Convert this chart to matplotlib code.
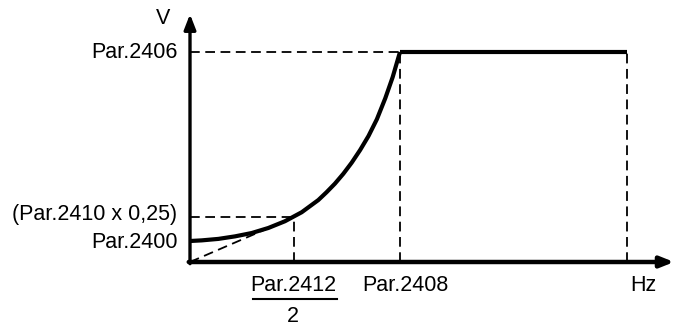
import matplotlib
matplotlib.use("Agg")
import matplotlib.pyplot as plt

plt.rcParams['font.family'] = ['Liberation Sans', 'DejaVu Sans']
plt.rcParams['lines.scale_dashes'] = False

# V/f curve (frequency normalised to Par.2408, voltage to Par.2406)
freq_curve = [0.0, 0.056, 0.135, 0.214, 0.294, 0.373, 0.452, 0.532, 0.611,
              0.650, 0.690, 0.730, 0.770, 0.810, 0.850, 0.890, 0.930, 0.965, 1.0]
volt_curve = [0.100, 0.103, 0.110, 0.122, 0.138, 0.162, 0.194, 0.237, 0.295,
              0.332, 0.373, 0.420, 0.473, 0.533, 0.600, 0.680, 0.780, 0.880, 1.0]

# constant-voltage range above the base frequency
freq_flat = [1.0, 2.08]
volt_flat = [1.0, 1.0]

# reference points
f_half = 0.495      # Par.2412 / 2
v_quarter = 0.214   # Par.2410 x 0,25
v_start = 0.100     # Par.2400
f_base = 1.0        # Par.2408
v_max = 1.0         # Par.2406
f_end = 2.08

fig = plt.figure(figsize=(6.76, 3.27), dpi=100)
ax = fig.add_axes([0, 0, 1, 1])
ax.set_xlim(-190 / 210, 486 / 210)
ax.set_ylim(-65 / 210, 262 / 210)
ax.axis('off')

dash = dict(color='black', lw=1.3, linestyle=(0, (7, 4)))
ax.plot([0, f_base], [v_max, v_max], **dash)
ax.plot([f_base, f_base], [0, v_max], **dash)
ax.plot([f_end, f_end], [0, v_max], **dash)
ax.plot([0, f_half], [v_quarter, v_quarter], **dash)
ax.plot([f_half, f_half], [0, v_quarter], **dash)
ax.plot([0, f_half], [0, v_quarter], **dash)

ax.plot(freq_curve, volt_curve, color='black', lw=3, solid_capstyle='butt',
        solid_joinstyle='round')
ax.plot(freq_flat, volt_flat, color='black', lw=3, solid_capstyle='butt')

# axes with arrow heads
y_arrow = dict(arrowstyle='-|>,head_length=0.9,head_width=0.35', color='black',
               lw=2.4, shrinkA=0, shrinkB=0)
x_arrow = dict(arrowstyle='-|>,head_length=0.8,head_width=0.32', color='black',
               lw=3.2, shrinkA=0, shrinkB=0)
ax.annotate('', xy=(0, 1.18), xytext=(0, -0.008), arrowprops=y_arrow)
ax.annotate('', xy=(2.305, 0), xytext=(-0.006, 0), arrowprops=x_arrow)

fs = 15.5
ax.text(-0.06, v_max, 'Par.2406', ha='right', va='center', fontsize=fs)
ax.text(-0.06, v_quarter + 0.01, '(Par.2410 x 0,25)', ha='right', va='center', fontsize=fs)
ax.text(-0.06, v_start - 0.005, 'Par.2400', ha='right', va='center', fontsize=fs)
ax.text(-0.13, 1.16, 'V', ha='center', va='center', fontsize=fs)
ax.text(2.16, -0.11, 'Hz', ha='center', va='center', fontsize=fs)

ax.text(f_half - 0.005, -0.11, 'Par.2412', ha='center', va='center', fontsize=fs)
ax.plot([f_half - 0.195, f_half + 0.205], [-0.176, -0.176], color='black', lw=1.5)
ax.text(f_half - 0.005, -0.26, '2', ha='center', va='center', fontsize=fs)
ax.text(f_base + 0.025, -0.11, 'Par.2408', ha='center', va='center', fontsize=fs)

fig.savefig('out.png', dpi=100)
